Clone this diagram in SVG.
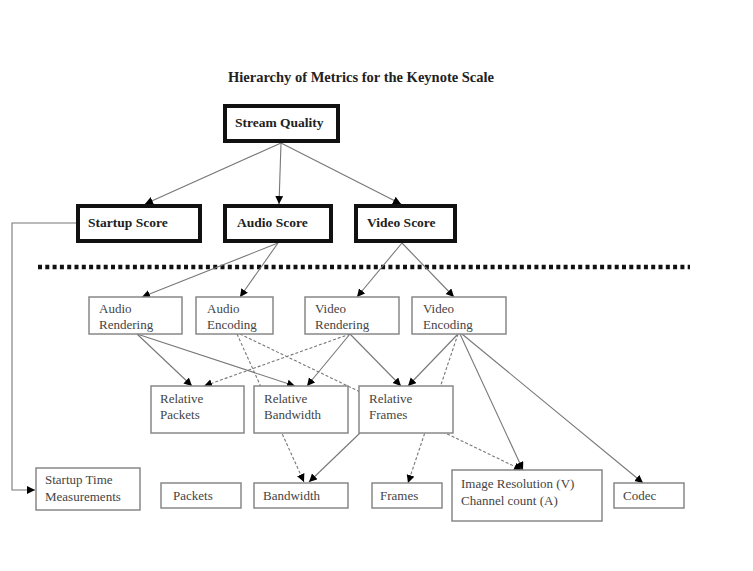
<svg xmlns="http://www.w3.org/2000/svg" width="753" height="571" viewBox="0 0 753 571">
<style>
.t{font-family:"Liberation Serif","Times New Roman",serif;font-size:13px;fill:#444}
.b{font-family:"Liberation Serif","Times New Roman",serif;font-size:13.5px;font-weight:bold;fill:#222}
.thick{fill:#fff;stroke:#111;stroke-width:4}
.thin{fill:#fff;stroke:#888;stroke-width:1.5}
.c{fill:none;stroke:#777;stroke-width:1.1;marker-end:url(#ah)}
.d{stroke-dasharray:3 2}
</style>
<defs>
<marker id="ah" markerUnits="userSpaceOnUse" markerWidth="9" markerHeight="9" refX="8" refY="4" orient="auto">
<path d="M0,0 L8,4 L0,8 z" fill="#000"/>
</marker>
</defs>
<rect width="753" height="571" fill="#fff"/>
<text x="361" y="82" text-anchor="middle" style="font-family:'Liberation Serif','Times New Roman',serif;font-size:14.5px;font-weight:bold;fill:#222">Hierarchy of Metrics for the Keynote Scale</text>
<line x1="38" y1="267" x2="690" y2="267" stroke="#111" stroke-width="4.5" stroke-dasharray="4 3.3"/>
<g id="connectors">
<path class="c" d="M281,143 L145,204"/>
<path class="c" d="M281,143 L279,204"/>
<path class="c" d="M281,143 L401,204"/>
<path class="c" d="M76,223 L12,223 L12,490 L35,490"/>
<path class="c" d="M278,243 L142,297"/>
<path class="c" d="M278,243 L240,297"/>
<path class="c" d="M402,243 L357,297"/>
<path class="c" d="M402,243 L454,297"/>
<path class="c" d="M137,334 L192,386"/>
<path class="c" d="M137,334 L295,386"/>
<path class="c d" d="M350,334 L204,386"/>
<path class="c" d="M350,334 L307,386"/>
<path class="c" d="M350,334 L401,386"/>
<path class="c d" d="M237,334 L304,482"/>
<path class="c d" d="M240,334 L522,470"/>
<path class="c" d="M458,334 L408,386"/>
<path class="c" d="M360,433 L309,482"/>
<path class="c d" d="M458,334 L408,483"/>
<path class="c" d="M460,334 L523,470"/>
<path class="c" d="M462,334 L643,483"/>
</g>
<g id="stream-quality"><rect class="thick" x="225" y="106" width="113" height="35"/><text class="b" x="235" y="127">Stream Quality</text></g>
<g id="startup-score"><rect class="thick" x="78" y="206" width="122" height="35"/><text class="b" x="88" y="227">Startup Score</text></g>
<g id="audio-score"><rect class="thick" x="225" y="206" width="106" height="35"/><text class="b" x="237" y="227">Audio Score</text></g>
<g id="video-score"><rect class="thick" x="356" y="206" width="99" height="35"/><text class="b" x="367" y="227">Video Score</text></g>
<g id="audio-rendering"><rect class="thin" x="89" y="297" width="93" height="37"/><text class="t" x="99" y="313">Audio</text><text class="t" x="99" y="329">Rendering</text></g>
<g id="audio-encoding"><rect class="thin" x="196" y="297" width="77" height="37"/><text class="t" x="207" y="313">Audio</text><text class="t" x="207" y="329">Encoding</text></g>
<g id="video-rendering"><rect class="thin" x="305" y="297" width="94" height="37"/><text class="t" x="315" y="313">Video</text><text class="t" x="315" y="329">Rendering</text></g>
<g id="video-encoding"><rect class="thin" x="412" y="297" width="94" height="37"/><text class="t" x="423" y="313">Video</text><text class="t" x="423" y="329">Encoding</text></g>
<g id="relative-packets"><rect class="thin" x="151" y="386" width="93" height="47"/><text class="t" x="160" y="403">Relative</text><text class="t" x="160" y="419">Packets</text></g>
<g id="relative-bandwidth"><rect class="thin" x="254" y="386" width="94" height="47"/><text class="t" x="264" y="403">Relative</text><text class="t" x="264" y="419">Bandwidth</text></g>
<g id="relative-frames"><rect class="thin" x="359" y="386" width="94" height="47"/><text class="t" x="369" y="403">Relative</text><text class="t" x="369" y="419">Frames</text></g>
<g id="startup-time"><rect class="thin" x="36" y="468" width="104" height="42"/><text class="t" x="45" y="484">Startup Time</text><text class="t" x="45" y="501">Measurements</text></g>
<g id="packets"><rect class="thin" x="161" y="483" width="80" height="25"/><text class="t" x="173" y="500">Packets</text></g>
<g id="bandwidth"><rect class="thin" x="254" y="483" width="94" height="25"/><text class="t" x="263" y="500">Bandwidth</text></g>
<g id="frames"><rect class="thin" x="372" y="483" width="70" height="25"/><text class="t" x="380" y="500">Frames</text></g>
<g id="image-resolution"><rect class="thin" x="452" y="470" width="150" height="51"/><text class="t" x="461" y="488">Image Resolution (V)</text><text class="t" x="461" y="505">Channel count (A)</text></g>
<g id="codec"><rect class="thin" x="614" y="483" width="70" height="25"/><text class="t" x="623" y="500">Codec</text></g>
</svg>
